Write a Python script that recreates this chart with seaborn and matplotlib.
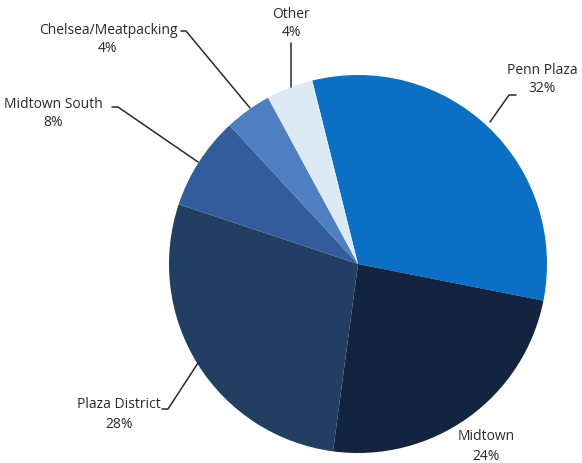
import matplotlib
matplotlib.use("Agg")
import matplotlib.pyplot as plt
import seaborn as sns

sns.set_theme(style="white")
plt.rcParams['font.family'] = ['Open Sans', 'DejaVu Sans']

categories = ["Penn Plaza", "Midtown", "Plaza District", "Midtown South",
              "Chelsea/Meatpacking", "Other"]
shares = [32, 24, 28, 8, 4, 4]
pct_labels = ["32%", "24%", "28%", "8%", "4%", "4%"]
colors = ["#0B6FC4", "#132440", "#233E63", "#335C9A", "#4E7FC2", "#DCEAF4"]

W, H = 582, 463
fig = plt.figure(figsize=(W / 100, H / 100), dpi=100)
ax = fig.add_axes([0, 0, 1, 1])

cx, cy, r = 358, H - 264, 189
ax.pie(shares, colors=colors, startangle=104, counterclock=False,
       center=(cx, cy), radius=r, frame=True,
       wedgeprops=dict(edgecolor="none", linewidth=0))
ax.set_xlim(0, W)
ax.set_ylim(0, H)
ax.set_aspect("equal")
ax.axis("off")

# label layout: (text x, text y of name line), leader polyline (pixel coords)
layout = [
    ((542, 70), [(490, 122), (509, 95), (516, 95)]),
    ((486, 437), None),
    ((119, 405), [(198, 363), (168, 409), (162, 409)]),
    ((53, 104), [(198, 162), (118, 107), (112, 107)]),
    ((108, 30), [(250, 108), (186, 31), (181, 31)]),
    ((291, 14), [(291, 87), (291, 43)]),
]

for name, pct, (pos, leader) in zip(categories, pct_labels, layout):
    tx, ty = pos
    ax.text(tx, H - ty, name, ha="center", va="center", fontsize=10, color="#2a2a2a")
    ax.text(tx, H - ty - 19, pct, ha="center", va="center", fontsize=10, color="#2a2a2a")
    if leader:
        xs = [p[0] for p in leader]
        ys = [H - p[1] for p in leader]
        ax.plot(xs, ys, color="#2a2a2a", lw=1.1)

fig.savefig("out.png", dpi=100, facecolor="white")
